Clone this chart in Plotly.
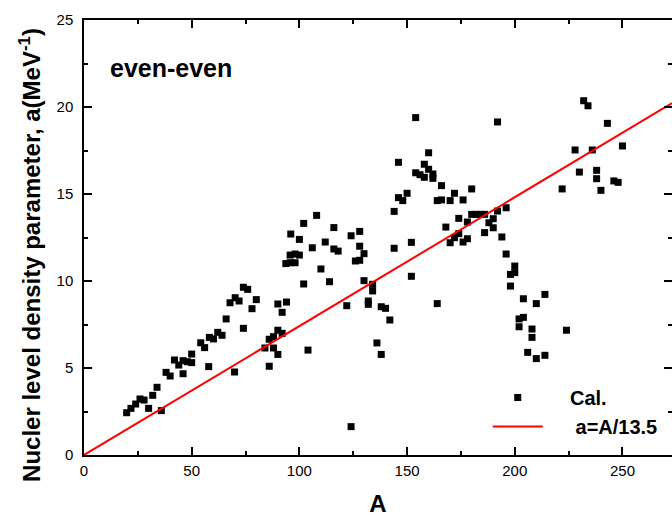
import plotly.graph_objects as go

# Calculated level density parameters (even-even nuclei)
A_cal = [19.8, 21.8, 24, 26, 27.9, 30, 31.9, 33.9, 35.9, 38.1, 40, 42, 44, 46, 46, 48, 50, 50,
         54.2, 56, 57.9, 58.2, 60.1, 62.1, 64.1, 66, 67.8, 69.9, 70.2, 72, 74, 76, 74, 78, 80,
         84, 86, 86, 88, 88, 90, 90, 90, 92, 92, 94, 104, 102, 114, 110,
         93.7, 95.7, 98, 95.7, 98, 100, 96, 100, 102, 106, 108, 112, 116, 116, 118,
         124, 128, 128, 130, 126, 128, 130, 122, 132, 132, 134, 134, 138, 140, 142, 136, 138, 124,
         144, 146, 148, 150, 152, 144, 152, 154, 146, 158, 160, 154, 156, 158, 160,
         192, 232, 234, 243, 250, 228, 236, 230, 238, 238, 240, 246, 248, 222, 224,
         162, 162, 166, 172, 180, 164, 166, 170, 176, 196, 192, 174, 180, 182, 184, 186, 190, 188,
         178, 168, 174, 172, 170, 176, 178, 186, 190, 194, 196, 164,
         200, 198, 200, 198, 204, 210, 214, 202, 204, 202, 208, 208, 206, 210, 214]
a_cal = [2.43, 2.68, 2.93, 3.22, 3.16, 2.68, 3.43, 3.89, 2.55, 4.75, 4.54, 5.46, 5.17, 4.67, 5.42, 5.36, 5.31, 5.8,
         6.45, 6.17, 5.08, 6.76, 6.67, 7.05, 6.88, 7.82, 8.75, 4.77, 9.04, 8.85, 9.64, 9.52, 7.28, 8.41, 8.93,
         6.15, 5.1, 6.65, 6.8, 6.15, 8.68, 7.17, 5.78, 8.2, 6.99, 8.79, 6.03, 9.83, 9.96, 10.69,
         11.0, 11.05, 11.05, 11.49, 11.55, 11.49, 12.7, 12.39, 13.31, 11.91, 13.77, 12.24, 13.07, 11.84, 11.72,
         12.6, 12.85, 12.0, 11.57, 11.15, 11.19, 10.02, 8.58, 8.85, 8.66, 9.81, 9.43, 8.52, 8.43, 7.76, 6.44, 5.78, 1.63,
         14.0, 14.79, 14.62, 15.04, 12.22, 11.88, 10.27, 19.39, 16.82, 16.71, 17.37, 16.22, 16.11, 15.96, 16.42,
         19.14, 20.36, 20.07, 19.06, 17.76, 17.53, 17.53, 16.26, 16.36, 15.88, 15.21, 15.75, 15.67, 15.29, 7.17,
         16.15, 15.9, 15.48, 15.04, 15.29, 14.62, 14.66, 14.62, 14.66, 14.21, 14.02, 13.6, 13.83, 13.83, 13.83, 13.83, 13.58, 13.35,
         13.39, 13.1, 12.72, 12.49, 12.2, 12.24, 12.43, 12.78, 13.06, 12.53, 11.55, 8.7,
         10.86, 10.38, 10.48, 9.71, 8.98, 8.7, 9.23, 7.82, 7.91, 7.37, 7.24, 6.76, 5.9, 5.54, 5.73]

# Systematics line a = A/13.5
A_line = [0, 273]
divisor = 13.5
a_line = [v / divisor for v in A_line]

x_ticks = [0, 50, 100, 150, 200, 250]
y_ticks = [0, 5, 10, 15, 20, 25]

FONT = "Liberation Sans, Arial"
NB = "\u00a0"

fig = go.Figure()
fig.add_trace(go.Scatter(x=A_cal, y=a_cal, mode="markers", name="<b>" + NB * 4 + "Cal.</b>",
                         marker=dict(symbol="square", size=7, color="black")))
fig.add_trace(go.Scatter(x=A_line, y=a_line, mode="lines", name="<b>" + NB * 5 + "a=A/13.5</b>",
                         line=dict(color="#ff0000", width=2)))

axis_common = dict(showgrid=False, zeroline=False, showline=True, linecolor="black", linewidth=1.5,
                   mirror="ticks", ticks="inside", ticklen=8, tickwidth=1.5, tickcolor="black",
                   tickfont=dict(family=FONT, size=15, color="black"))

fig.update_xaxes(range=[0, 273], tickvals=x_ticks, ticklabelstandoff=1,
                 minor=dict(dtick=25, ticks="inside", ticklen=4, tickwidth=1.5, tickcolor="black"),
                 title=dict(text="<b>A</b>", standoff=24,
                            font=dict(family=FONT, size=24, color="black")),
                 **axis_common)
fig.update_yaxes(range=[0, 25], tickvals=y_ticks, ticklabelstandoff=6,
                 minor=dict(dtick=2.5, ticks="inside", ticklen=4, tickwidth=1.5, tickcolor="black"),
                 **axis_common)

# y-axis title (placed as annotation to match the reference offset)
fig.add_annotation(x=-0.0918, y=0.46, xref="paper", yref="paper", xanchor="center", yanchor="middle",
                   text="<b>Nucler level density parameter, a(MeV<sup>-1</sup>)</b>", textangle=-90,
                   showarrow=False, font=dict(family=FONT, size=24, color="black"))

fig.add_annotation(x=0.04, y=0.89, xref="paper", yref="paper", xanchor="left", yanchor="middle",
                   text="<b>even-even</b>", showarrow=False,
                   font=dict(family=FONT, size=25, color="black"))

fig.update_layout(
    width=672, height=517,
    margin=dict(l=84, r=0, t=20, b=62, autoexpand=False),
    plot_bgcolor="white", paper_bgcolor="white",
    showlegend=True,
    legend=dict(x=0.6866, y=0.177, xanchor="left", yanchor="top", bgcolor="rgba(0,0,0,0)",
                itemwidth=50, tracegroupgap=0,
                font=dict(family=FONT, size=20, color="black")),
)

fig.write_html("out.html")
